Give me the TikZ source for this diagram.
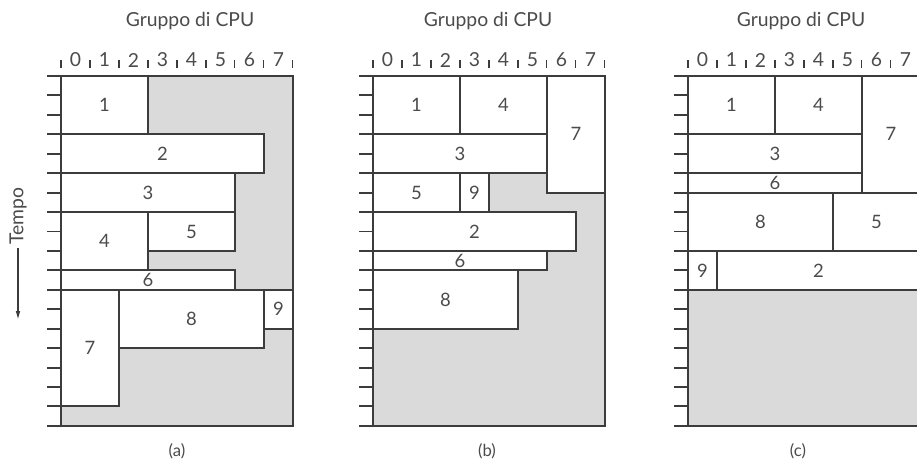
\documentclass[tikz,border=0pt]{standalone}
\usepackage{fontspec}
\setmainfont{Lato}
\usepackage{tikz}
\usetikzlibrary{arrows.meta}
\definecolor{inkgray}{RGB}{60,60,60}
\definecolor{textgray}{RGB}{75,75,75}
\definecolor{idlegray}{RGB}{218,218,218}
\tikzset{
  frame/.style={draw=inkgray,line width=1.1pt},
  idle/.style={frame,fill=idlegray},
  jobbox/.style={frame,fill=white},
  joblab/.style={font=\fontsize{10.5}{12}\selectfont,text=textgray,inner sep=1pt},
  axislab/.style={font=\fontsize{11}{12}\selectfont,text=textgray,inner sep=1pt},
  axistick/.style={draw=inkgray,line width=0.6pt},
  heading/.style={font=\fontsize{11}{12}\selectfont,text=textgray},
  caption/.style={font=\fontsize{9.5}{12}\selectfont,text=textgray},
  timearrow/.style={draw=inkgray,line width=0.8pt,-{Latex[length=5pt,width=2.6pt]}},
}

\begin{document}
\begin{tikzpicture}[x=0.02cm,y=-0.02cm]
  \useasboundingbox (0,0) rectangle (917,462);
  \clip (0,0) rectangle (917,462);

  % time axis on the left
  \node[heading,rotate=90,inner sep=2pt] (tempo) at (18,216) {Tempo};
  \coordinate (tempoend) at (18,320);
  \draw[timearrow] (tempo.west) -- (tempoend);

  % panel (a)
  \node[heading] (heada) at (190,21) {Gruppo di CPU};
  \node[caption] (capa) at (177,451) {(a)};
  \begin{scope}[shift={(61,76)},x=0.58cm,y=-0.3888cm]
    \draw[idle] (0,0) rectangle (8,18);
    \foreach \t in {0,...,18} \draw[frame] (-0.48,\t) -- (0,\t);
    \foreach \c in {0,...,8} \draw[axistick] (\c,-0.82) -- (\c,-0.42);
    \foreach \c in {0,...,7} \node[axislab] (acol\c) at (\c+0.5,-0.82) {\c};
    \foreach \lab/\xa/\ya/\xb/\yb in {1/0/0/3/3, 2/0/3/7/5, 3/0/5/6/7, 4/0/7/3/10,
        5/3/7/6/9, 6/0/10/6/11, 7/0/11/2/17, 8/2/11/7/14, 9/7/11/8/13} {
      \draw[jobbox] (\xa,\ya) rectangle (\xb,\yb);
      \node[joblab] (a\lab) at ({(\xa+\xb)/2},{(\ya+\yb)/2}) {\lab};
    }
  \end{scope}

  % panel (b)
  \node[heading] (headb) at (488,21) {Gruppo di CPU};
  \node[caption] (capb) at (487,451) {(b)};
  \begin{scope}[shift={(373,76)},x=0.58cm,y=-0.3888cm]
    \draw[idle] (0,0) rectangle (8,18);
    \foreach \t in {0,...,18} \draw[frame] (-0.48,\t) -- (0,\t);
    \foreach \c in {0,...,8} \draw[axistick] (\c,-0.82) -- (\c,-0.42);
    \foreach \c in {0,...,7} \node[axislab] (bcol\c) at (\c+0.5,-0.82) {\c};
    \foreach \lab/\xa/\ya/\xb/\yb in {1/0/0/3/3, 4/3/0/6/3, 7/6/0/8/6, 3/0/3/6/5,
        5/0/5/3/7, 9/3/5/4/7, 2/0/7/7/9, 6/0/9/6/10, 8/0/10/5/13} {
      \draw[jobbox] (\xa,\ya) rectangle (\xb,\yb);
      \node[joblab] (b\lab) at ({(\xa+\xb)/2},{(\ya+\yb)/2}) {\lab};
    }
  \end{scope}

  % panel (c)
  \node[heading] (headc) at (801,21) {Gruppo di CPU};
  \node[caption] (capc) at (798,451) {(c)};
  \begin{scope}[shift={(688,76)},x=0.58cm,y=-0.3888cm]
    \draw[idle] (0,0) rectangle (8,18);
    \foreach \t in {0,...,18} \draw[frame] (-0.48,\t) -- (0,\t);
    \foreach \c in {0,...,8} \draw[axistick] (\c,-0.82) -- (\c,-0.42);
    \foreach \c in {0,...,7} \node[axislab] (ccol\c) at (\c+0.5,-0.82) {\c};
    \foreach \lab/\xa/\ya/\xb/\yb in {1/0/0/3/3, 4/3/0/6/3, 7/6/0/8/6, 3/0/3/6/5,
        6/0/5/6/6, 8/0/6/5/9, 5/5/6/8/9, 9/0/9/1/11, 2/1/9/8/11} {
      \draw[jobbox] (\xa,\ya) rectangle (\xb,\yb);
      \node[joblab] (c\lab) at ({(\xa+\xb)/2},{(\ya+\yb)/2}) {\lab};
    }
  \end{scope}
\end{tikzpicture}
\end{document}
